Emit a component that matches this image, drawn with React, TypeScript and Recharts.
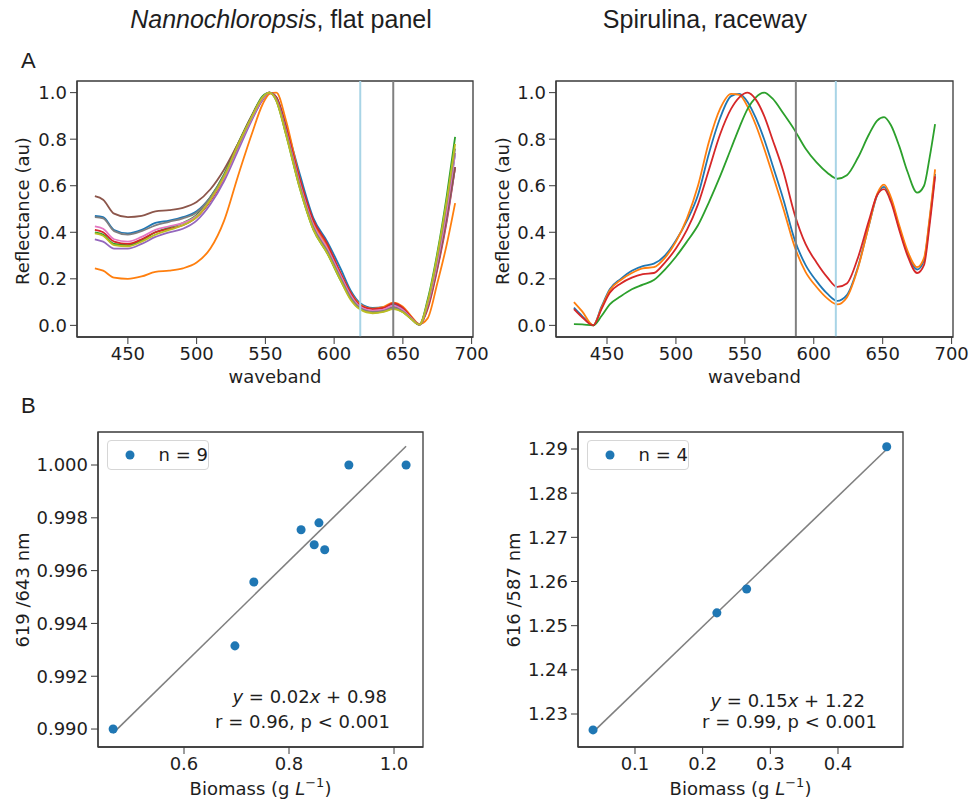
import React from 'react';
import { LineChart, Line, XAxis, YAxis, ReferenceLine, ReferenceArea, ScatterChart, Scatter, Legend } from 'recharts';

// ---------- Panel A data (normalised reflectance spectra) ----------
const wavesN = [426, 432, 440, 450, 460, 470, 480, 490, 500, 510, 520, 530, 540, 548, 553, 558, 565, 575, 585, 595, 605, 612, 619, 628, 636, 643, 650, 656, 662, 668, 675, 682, 688];
const nBlue = [0.47, 0.465, 0.41, 0.395, 0.41, 0.44, 0.45, 0.465, 0.49, 0.55, 0.64, 0.77, 0.89, 0.975, 1.0, 0.98, 0.86, 0.65, 0.46, 0.36, 0.24, 0.15, 0.095, 0.075, 0.078, 0.09, 0.07, 0.035, 0.004, 0.09, 0.27, 0.5, 0.74];
const nOrange = [0.245, 0.235, 0.205, 0.2, 0.21, 0.23, 0.235, 0.245, 0.27, 0.33, 0.45, 0.64, 0.82, 0.95, 0.995, 1.0, 0.88, 0.63, 0.44, 0.34, 0.22, 0.14, 0.09, 0.072, 0.08, 0.098, 0.08, 0.04, 0.006, 0.03, 0.18, 0.35, 0.525];
const nGreen = [0.4, 0.39, 0.35, 0.345, 0.365, 0.4, 0.42, 0.44, 0.475, 0.55, 0.65, 0.78, 0.9, 0.985, 1.0, 0.965, 0.82, 0.59, 0.41, 0.31, 0.19, 0.115, 0.07, 0.055, 0.06, 0.072, 0.058, 0.028, 0.003, 0.11, 0.31, 0.56, 0.81];
const nRed = [0.41, 0.4, 0.36, 0.35, 0.37, 0.4, 0.415, 0.43, 0.465, 0.535, 0.63, 0.76, 0.885, 0.97, 1.0, 0.98, 0.85, 0.63, 0.45, 0.35, 0.22, 0.14, 0.085, 0.07, 0.075, 0.095, 0.075, 0.035, 0.003, 0.07, 0.24, 0.45, 0.68];
const nPurple = [0.37, 0.36, 0.33, 0.33, 0.35, 0.38, 0.4, 0.415, 0.45, 0.52, 0.62, 0.75, 0.88, 0.97, 1.0, 0.97, 0.83, 0.6, 0.42, 0.32, 0.2, 0.12, 0.075, 0.058, 0.062, 0.078, 0.06, 0.03, 0.003, 0.08, 0.25, 0.46, 0.68];
const nBrown = [0.555, 0.54, 0.48, 0.465, 0.47, 0.49, 0.495, 0.505, 0.53, 0.585, 0.67, 0.78, 0.9, 0.98, 1.0, 0.97, 0.83, 0.6, 0.42, 0.32, 0.2, 0.12, 0.075, 0.06, 0.065, 0.08, 0.062, 0.03, 0.003, 0.08, 0.25, 0.47, 0.68];
const nPink = [0.425, 0.415, 0.37, 0.36, 0.38, 0.41, 0.425, 0.44, 0.47, 0.54, 0.635, 0.765, 0.89, 0.975, 1.0, 0.97, 0.835, 0.61, 0.43, 0.33, 0.21, 0.13, 0.08, 0.063, 0.068, 0.085, 0.066, 0.032, 0.003, 0.09, 0.27, 0.5, 0.74];
const nGray = [0.465, 0.46, 0.405, 0.39, 0.405, 0.43, 0.445, 0.46, 0.485, 0.55, 0.645, 0.77, 0.895, 0.98, 1.0, 0.97, 0.83, 0.6, 0.42, 0.32, 0.2, 0.12, 0.075, 0.058, 0.062, 0.076, 0.06, 0.03, 0.003, 0.1, 0.29, 0.53, 0.76];
const nOlive = [0.395, 0.385, 0.345, 0.34, 0.36, 0.39, 0.41, 0.43, 0.465, 0.54, 0.64, 0.775, 0.895, 0.98, 1.0, 0.965, 0.82, 0.59, 0.41, 0.31, 0.19, 0.11, 0.068, 0.052, 0.058, 0.07, 0.056, 0.027, 0.003, 0.1, 0.3, 0.54, 0.78];

const wavesS = [426, 432, 440, 446, 452, 460, 468, 476, 484, 492, 500, 508, 516, 524, 532, 540, 546, 552, 558, 564, 570, 578, 586, 594, 602, 610, 617, 624, 632, 640, 646, 651, 656, 662, 668, 675, 680, 684, 688];
const sBlue = [0.076, 0.04, 0.0, 0.08, 0.155, 0.2, 0.235, 0.255, 0.265, 0.3, 0.365, 0.45, 0.56, 0.74, 0.89, 0.985, 0.995, 0.96, 0.89, 0.8, 0.69, 0.54, 0.37, 0.26, 0.19, 0.135, 0.105, 0.13, 0.25, 0.43, 0.56, 0.595, 0.54, 0.42, 0.31, 0.24, 0.28, 0.45, 0.65];
const sOrange = [0.1, 0.06, 0.0, 0.075, 0.15, 0.195, 0.225, 0.245, 0.25, 0.29, 0.36, 0.46, 0.6, 0.79, 0.93, 0.995, 0.99, 0.94, 0.86, 0.76, 0.65, 0.5, 0.34, 0.23, 0.165, 0.115, 0.09, 0.12, 0.245, 0.43, 0.565, 0.605, 0.55, 0.43, 0.32, 0.25, 0.29, 0.46, 0.67];
const sGreen = [0.005, 0.004, 0.0, 0.04, 0.09, 0.125, 0.155, 0.175, 0.195, 0.24, 0.295, 0.36, 0.43, 0.53, 0.64, 0.76, 0.85, 0.93, 0.98, 1.0, 0.975, 0.91, 0.84, 0.76, 0.7, 0.655, 0.63, 0.645, 0.72, 0.82, 0.88, 0.895, 0.86, 0.77, 0.66, 0.57, 0.6, 0.72, 0.865];
const sRed = [0.07, 0.035, 0.0, 0.07, 0.14, 0.18, 0.205, 0.22, 0.225, 0.27, 0.33, 0.41, 0.52, 0.67, 0.82, 0.93, 0.98, 1.0, 0.97, 0.9, 0.8, 0.66, 0.48, 0.35, 0.27, 0.205, 0.165, 0.18, 0.29, 0.45, 0.56, 0.585, 0.53, 0.41, 0.3, 0.225, 0.26, 0.43, 0.64];

const waveTicks = [450, 500, 550, 600, 650, 700];
const reflTicks = [0, 0.2, 0.4, 0.6, 0.8, 1.0];
const refLinesN = [619, 643];
const refLinesS = [587, 616];

// ---------- Panel B data (ratio vs biomass) ----------
const bioN = [0.465, 0.697, 0.733, 0.823, 0.848, 0.857, 0.868, 0.914, 1.023];
const ratioN = [0.99, 0.99315, 0.99557, 0.99755, 0.99698, 0.99781, 0.99679, 1.0, 1.0];
const bioS = [0.038, 0.221, 0.265, 0.472];
const ratioS = [1.2264, 1.2529, 1.2583, 1.2905];
const ticksBioN = [0.6, 0.8, 1.0];
const ticksRatioN = [0.99, 0.992, 0.994, 0.996, 0.998, 1.0];
const ticksBioS = [0.1, 0.2, 0.3, 0.4];
const ticksRatioS = [1.23, 1.24, 1.25, 1.26, 1.27, 1.28, 1.29];

// ---------- styling ----------
const FONT = "'DejaVu Sans', sans-serif";
const TITLE_FONT = "'Liberation Sans', Arial, sans-serif";
const TXT = '#1e1e1e';
const SPINE = '#3a3a3a';
const LIGHTBLUE = '#a8d4e6';
const GRAYLINE = '#808080';
const C: Record<string, string> = {
  blue: '#1f77b4', orange: '#ff7f0e', green: '#2ca02c', red: '#d62728', purple: '#9467bd',
  brown: '#8c564b', pink: '#e377c2', gray: '#7f7f7f', olive: '#bcbd22',
};

const seriesN = [
  { key: 'blue', vals: nBlue }, { key: 'orange', vals: nOrange }, { key: 'green', vals: nGreen },
  { key: 'red', vals: nRed }, { key: 'purple', vals: nPurple }, { key: 'brown', vals: nBrown },
  { key: 'pink', vals: nPink }, { key: 'gray', vals: nGray }, { key: 'olive', vals: nOlive },
];
const seriesS = [
  { key: 'blue', vals: sBlue }, { key: 'orange', vals: sOrange }, { key: 'green', vals: sGreen }, { key: 'red', vals: sRed },
];

function buildRows(waves: number[], series: { key: string; vals: number[] }[]) {
  return waves.map((w, i) => {
    const row: Record<string, number> = { w };
    series.forEach((s) => { row[s.key] = s.vals[i]; });
    return row;
  });
}

function fitLine(xs: number[], ys: number[]) {
  const n = xs.length;
  const mx = xs.reduce((a, b) => a + b, 0) / n;
  const my = ys.reduce((a, b) => a + b, 0) / n;
  let sxy = 0, sxx = 0;
  xs.forEach((x, i) => { sxy += (x - mx) * (ys[i] - my); sxx += (x - mx) * (x - mx); });
  const slope = sxy / sxx;
  const icpt = my - slope * mx;
  const x0 = Math.min(...xs), x1 = Math.max(...xs);
  return [{ x: x0, y: icpt + slope * x0 }, { x: x1, y: icpt + slope * x1 }];
}

const tickStyle = { fontSize: 18, fill: TXT, fontFamily: FONT };
const spine = { stroke: SPINE, strokeWidth: 1.3 };
const X_DOM_A: [number, number] = [413, 701];
const Y_DOM_A: [number, number] = [-0.05, 1.05];

function Spectra({ waves, series, refs, refColors, width, height, margin }: any) {
  const data = buildRows(waves, series);
  return (
    <LineChart width={width} height={height} data={data} margin={margin}>
      <XAxis dataKey="w" type="number" domain={X_DOM_A} ticks={waveTicks} allowDataOverflow
        tick={tickStyle} tickSize={7} tickMargin={3} height={40} axisLine={spine} tickLine={{ stroke: SPINE }} />
      <YAxis type="number" domain={Y_DOM_A} ticks={reflTicks} allowDataOverflow
        tickFormatter={(v: number) => v.toFixed(1)} tick={tickStyle} tickSize={7} tickMargin={3}
        width={60} axisLine={spine} tickLine={{ stroke: SPINE }} />
      {series.map((s: any) => (
        <Line key={s.key} dataKey={s.key} type="monotone" stroke={C[s.key]} strokeWidth={1.8}
          dot={false} isAnimationActive={false} />
      ))}
      {refs.map((x: number, i: number) => (
        <ReferenceLine key={x} x={x} stroke={refColors[i]} strokeWidth={2} />
      ))}
      <ReferenceArea x1={X_DOM_A[0]} x2={X_DOM_A[1]} y1={Y_DOM_A[0]} y2={Y_DOM_A[1]}
        fill="none" fillOpacity={0} stroke={SPINE} strokeWidth={1.3} strokeOpacity={1} ifOverflow="visible" />
    </LineChart>
  );
}

function Regression({ xs, ys, xDomain, yDomain, xTicks, yTicks, xDec, yDec, legendPos, width, height, margin }: any) {
  const pts = xs.map((x: number, i: number) => ({ x, y: ys[i] }));
  const fit = fitLine(xs, ys);
  const name = `n = ${xs.length}`;
  return (
    <ScatterChart width={width} height={height} margin={margin}>
      <XAxis dataKey="x" type="number" domain={xDomain} ticks={xTicks} allowDataOverflow
        tickFormatter={(v: number) => v.toFixed(xDec)} tick={tickStyle} tickSize={7} tickMargin={3}
        height={40} axisLine={spine} tickLine={{ stroke: SPINE }} />
      <YAxis dataKey="y" type="number" domain={yDomain} ticks={yTicks} allowDataOverflow
        tickFormatter={(v: number) => v.toFixed(yDec)} tick={tickStyle} tickSize={7} tickMargin={3}
        width={70} axisLine={spine} tickLine={{ stroke: SPINE }} />
      <Legend layout="horizontal" verticalAlign="middle" align="center"
        wrapperStyle={{ left: legendPos.left, top: legendPos.top, width: 102, height: 30 }}
        content={(props: any) => {
          const items = (props.payload || []).filter((p: any) => p.type !== 'none');
          const label = items.length ? items[0].value : name;
          return (
            <div style={{
              width: 102, height: 30, boxSizing: 'border-box', border: '1px solid #d6d6d6', borderRadius: 4,
              background: 'rgba(255,255,255,0.85)', display: 'flex', alignItems: 'center',
            }}>
              <svg width={40} height={28} style={{ display: 'block' }}>
                <circle cx={22} cy={14} r={4.5} fill={C.blue} />
              </svg>
              <span style={{ fontFamily: FONT, fontSize: 18, color: TXT, marginLeft: 11, whiteSpace: 'nowrap', lineHeight: '28px' }}>{label}</span>
            </div>
          );
        }} />
      <Scatter name="fit" data={fit} line={{ stroke: GRAYLINE, strokeWidth: 1.6 }} shape={() => <g />}
        legendType="none" isAnimationActive={false} />
      <Scatter name={name} data={pts} fill={C.blue} isAnimationActive={false} />
      <ReferenceArea x1={xDomain[0]} x2={xDomain[1]} y1={yDomain[0]} y2={yDomain[1]}
        fill="none" fillOpacity={0} stroke={SPINE} strokeWidth={1.3} strokeOpacity={1} ifOverflow="visible" />
    </ScatterChart>
  );
}

export default function App() {
  const t = { fontFamily: FONT, fontSize: 18, fill: TXT } as const;
  return (
    <div style={{ position: 'absolute', left: 0, top: 0, width: 979, height: 803, background: '#fff', overflow: 'hidden' }}>
      <div style={{ position: 'absolute', left: 0, top: 0 }}>
        <Spectra waves={wavesN} series={seriesN} refs={refLinesN} refColors={[LIGHTBLUE, GRAYLINE]} width={490} height={400}
          margin={{ left: 17, right: 17, top: 81, bottom: 23 }} />
      </div>
      <div style={{ position: 'absolute', left: 490, top: 0 }}>
        <Spectra waves={wavesS} series={seriesS} refs={refLinesS} refColors={[GRAYLINE, LIGHTBLUE]} width={489} height={400}
          margin={{ left: 6, right: 26, top: 81, bottom: 23 }} />
      </div>
      <div style={{ position: 'absolute', left: 0, top: 400 }}>
        <Regression xs={bioN} ys={ratioN} xDomain={[0.4362, 1.0552]} yDomain={[0.98932, 1.00125]}
          xTicks={ticksBioN} yTicks={ticksRatioN} xDec={1} yDec={3} legendPos={{ left: 107, top: 40 }}
          width={490} height={403} margin={{ left: 28, right: 67, top: 32, bottom: 16 }} />
      </div>
      <div style={{ position: 'absolute', left: 490, top: 400 }}>
        <Regression xs={bioS} ys={ratioS} xDomain={[0.01577, 0.49606]} yDomain={[1.22253, 1.29385]}
          xTicks={ticksBioS} yTicks={ticksRatioS} xDec={1} yDec={2} legendPos={{ left: 97, top: 40 }}
          width={489} height={403} margin={{ left: 18, right: 76, top: 32, bottom: 16 }} />
      </div>
      <svg width={979} height={803} style={{ position: 'absolute', left: 0, top: 0, pointerEvents: 'none' }}>
        <text x={281} y={28} textAnchor="middle" fontFamily={TITLE_FONT} fontSize={25} fill={TXT}>
          <tspan fontStyle="italic">Nannochloropsis</tspan>, flat panel
        </text>
        <text x={705} y={28} textAnchor="middle" fontFamily={TITLE_FONT} fontSize={25} fill={TXT}>Spirulina, raceway</text>
        <text x={21} y={68} fontFamily={TITLE_FONT} fontSize={22} fill={TXT}>A</text>
        <text x={21} y={413} fontFamily={TITLE_FONT} fontSize={22} fill={TXT}>B</text>

        <text x={22} y={211} textAnchor="middle" dominantBaseline="central" transform="rotate(-90 22 211)" {...t}>Reflectance (au)</text>
        <text x={502} y={211} textAnchor="middle" dominantBaseline="central" transform="rotate(-90 502 211)" {...t}>Reflectance (au)</text>
        <text x={275} y={383} textAnchor="middle" {...t}>waveband</text>
        <text x={754.5} y={383} textAnchor="middle" {...t}>waveband</text>

        <text x={22} y={590} textAnchor="middle" dominantBaseline="central" transform="rotate(-90 22 590)" {...t}>619 /643 nm</text>
        <text x={513} y={590} textAnchor="middle" dominantBaseline="central" transform="rotate(-90 513 590)" {...t}>616 /587 nm</text>
        <text x={260.5} y={795} textAnchor="middle" {...t}>
          Biomass (g <tspan fontStyle="italic">L</tspan><tspan dy={-8} fontSize={13}>−1</tspan><tspan dy={8}>)</tspan>
        </text>
        <text x={740.5} y={795} textAnchor="middle" {...t}>
          Biomass (g <tspan fontStyle="italic">L</tspan><tspan dy={-8} fontSize={13}>−1</tspan><tspan dy={8}>)</tspan>
        </text>

        <text x={387} y={703} textAnchor="end" {...t}>
          <tspan fontStyle="italic">y</tspan> = 0.02<tspan fontStyle="italic">x</tspan> + 0.98
        </text>
        <text x={390} y={728} textAnchor="end" {...t}>r = 0.96, p &lt; 0.001</text>
        <text x={865} y={707} textAnchor="end" {...t}>
          <tspan fontStyle="italic">y</tspan> = 0.15<tspan fontStyle="italic">x</tspan> + 1.22
        </text>
        <text x={877} y={728} textAnchor="end" {...t}>r = 0.99, p &lt; 0.001</text>
      </svg>
    </div>
  );
}
